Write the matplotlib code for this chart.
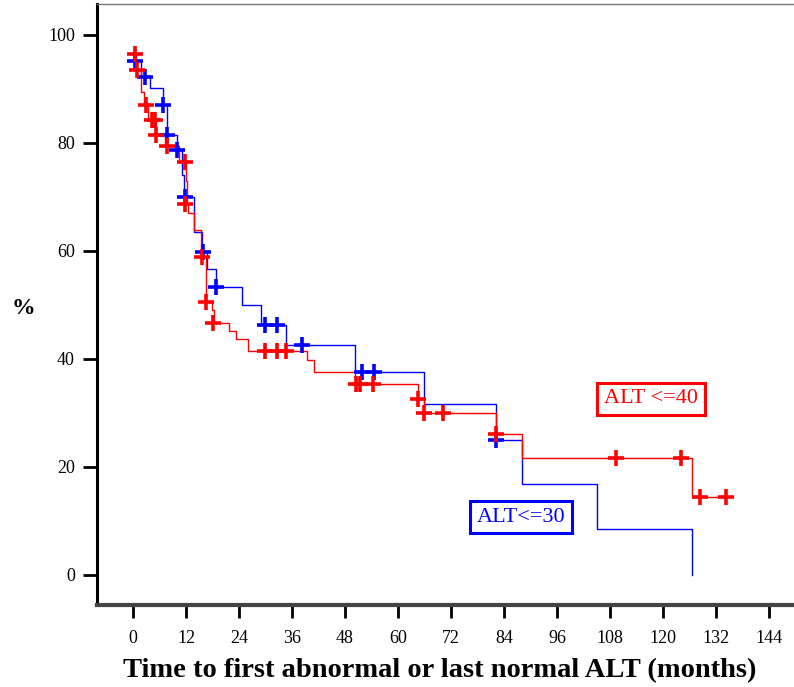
import matplotlib
matplotlib.use('Agg')
import numpy as np
import matplotlib.pyplot as plt

plt.rcParams['font.family'] = ['Liberation Serif', 'DejaVu Serif']

# ALT <= 40 (red): step curve (months, %) and censored points
red_t = [0, 0.7, 1.7, 2.5, 3.5, 5.2, 7.2, 10.5, 12.0, 12.2, 12.5, 13.8, 15.4, 16.6,
         18.0, 18.4, 21.8, 23.3, 26.1, 39.5, 41.0, 50.3, 64.6, 66.0, 82.3, 88.1,
         126.5, 134.4]
red_s = [96.5, 93.5, 89.5, 87.0, 84.3, 81.5, 79.4, 76.4, 73.0, 68.6, 67.0, 63.8, 58.9,
         50.6, 49.1, 46.7, 45.2, 43.6, 41.4, 39.8, 37.5, 35.3, 32.6, 29.9, 26.1, 21.7,
         14.5, 14.5]
red_cens_t = [0.5, 0.8, 2.9, 4.2, 5.0, 5.2, 7.8, 11.8, 11.8, 15.7, 16.6, 18.2,
              29.9, 32.5, 34.6, 50.6, 51.4, 54.4, 64.6, 66.0, 70.2, 82.3,
              109.4, 124.2, 128.4, 134.4]
red_cens_s = [96.5, 93.5, 87.0, 84.3, 84.3, 81.5, 79.4, 76.4, 68.6, 58.9, 50.6, 46.7,
              41.4, 41.4, 41.4, 35.3, 35.3, 35.3, 32.6, 29.9, 29.9, 26.1,
              21.7, 21.7, 14.5, 14.5]

# ALT <= 30 (blue)
blue_t = [0, 1.9, 3.9, 6.9, 7.6, 10.0, 11.0, 11.5, 13.8, 15.7, 16.8, 18.9, 24.6,
          28.9, 34.6, 50.3, 66.0, 82.3, 88.0, 105.1, 126.6]
blue_s = [95.1, 92.2, 90.1, 87.0, 81.5, 78.7, 74.0, 69.9, 63.5, 59.8, 56.7, 53.4,
          50.0, 46.3, 42.5, 37.5, 31.6, 25.0, 16.8, 8.5, 0.0]
blue_cens_t = [0.5, 2.7, 6.9, 7.6, 10.0, 11.8, 15.9, 18.9, 29.9, 32.5, 38.2,
               51.8, 54.6, 82.3]
blue_cens_s = [95.1, 92.2, 87.0, 81.5, 78.7, 69.9, 59.8, 53.4, 46.3, 46.3, 42.5,
               37.5, 37.5, 25.0]

xticks = np.arange(0, 145, 12)
yticks = [0, 20, 40, 60, 80, 100]

fig = plt.figure(figsize=(7.94, 6.87), dpi=100)
ax = fig.add_axes([0.1222, 0.1194, 0.8778, 0.8746])

ax.step(blue_t, blue_s, where='post', color='#0000ff', lw=1.0)
ax.step(red_t, red_s, where='post', color='#ff0000', lw=1.0)
ax.plot(blue_cens_t, blue_cens_s, ls='none', marker='+', ms=12, mew=2.6, color='#0000ff')
ax.plot(red_cens_t, red_cens_s, ls='none', marker='+', ms=12, mew=2.6, color='#ff0000')

ax.set_xlim(-8.15, 149.7)
ax.set_ylim(-5.56, 105.7)
ax.set_xticks(xticks)
ax.set_yticks(yticks)
ax.tick_params(axis='x', direction='out', length=9, width=2, labelsize=13, pad=9)
ax.tick_params(axis='y', direction='out', length=10, width=2, labelsize=13, pad=6)

ax.spines['right'].set_visible(False)
ax.spines['top'].set_color('#777777')
ax.spines['top'].set_linewidth(1)
ax.spines['left'].set_linewidth(2.2)
ax.spines['bottom'].set_linewidth(3)
ax.spines['bottom'].set_color('#444444')

ax.text(117.3, 32.6, 'ALT <=40', color='#ff0000', fontsize=16, ha='center', va='center',
        bbox=dict(boxstyle='square,pad=0.3', fc='white', ec='#ff0000', lw=2.2))
ax.text(87.8, 10.7, 'ALT<=30', color='#0000ff', fontsize=16, ha='center', va='center',
        bbox=dict(boxstyle='square,pad=0.3', fc='white', ec='#0000ff', lw=2.2))

# axis titles placed in figure coordinates
fig.text(440 / 794, 1 - 671 / 687, 'Time to first abnormal or last normal ALT (months)',
         fontsize=20.5, fontweight='bold', ha='center', va='center')
fig.text(23 / 794, 1 - 308 / 687, '%', fontsize=17, fontweight='bold',
         ha='center', va='center')

fig.savefig('out.png', dpi=100)
